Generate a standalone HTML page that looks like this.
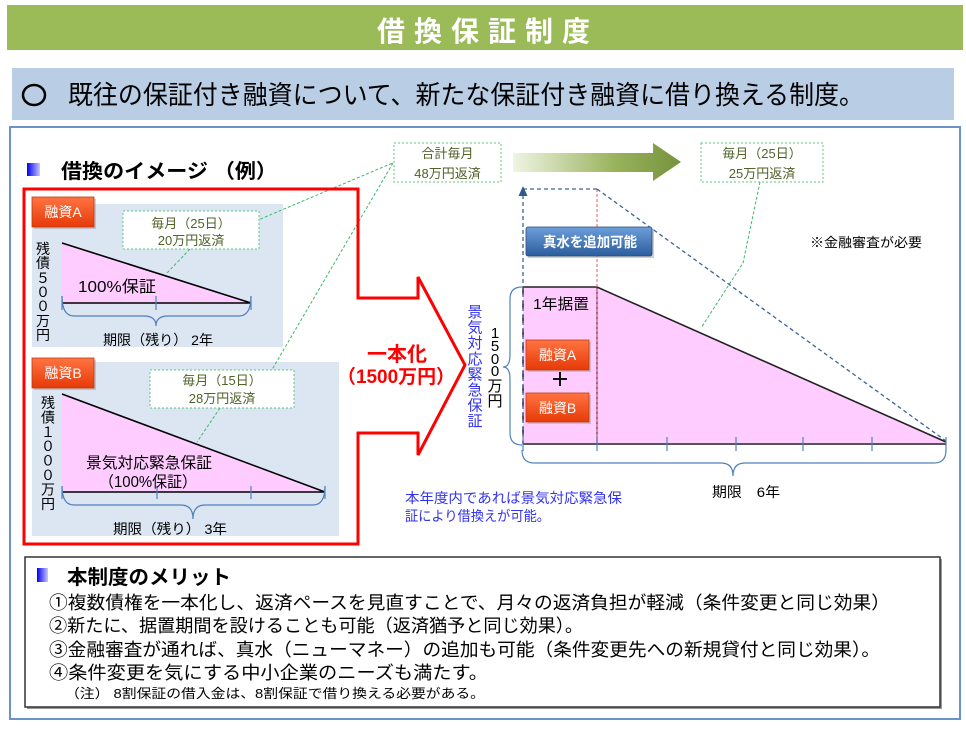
<!DOCTYPE html>
<html><head><meta charset="utf-8"><style>
html,body{margin:0;padding:0;background:#fff;}
svg{display:block;}
text{font-family:"Liberation Sans","Noto Sans CJK JP",sans-serif;}
</style></head><body>
<svg width="966" height="732" viewBox="0 0 966 732" xmlns="http://www.w3.org/2000/svg">
<defs>
<linearGradient id="bdg" x1="0" y1="0" x2="0" y2="1"><stop offset="0" stop-color="#FF7442"/><stop offset="1" stop-color="#E63A08"/></linearGradient>
<linearGradient id="btn" x1="0" y1="0" x2="0" y2="1"><stop offset="0" stop-color="#6C9EDA"/><stop offset="1" stop-color="#2C5E9F"/></linearGradient>
<linearGradient id="arr" x1="0" y1="0" x2="1" y2="0"><stop offset="0" stop-color="#F0F4E4"/><stop offset="0.6" stop-color="#9AB45E"/><stop offset="1" stop-color="#76923C"/></linearGradient>
<linearGradient id="sq" x1="0" y1="0" x2="1" y2="0"><stop offset="0" stop-color="#0000EE"/><stop offset="1" stop-color="#C8C8FF"/></linearGradient>
</defs>
<rect width="966" height="732" fill="#fff"/>

<!-- header -->
<rect x="7" y="5" width="956" height="45" fill="#9BBB59"/>
<text x="377" y="41" font-size="28" font-weight="bold" fill="#fff" textLength="213" lengthAdjust="spacing">借換保証制度</text>

<rect x="12" y="68" width="942" height="52" fill="#B9CDE5"/>
<ellipse cx="34" cy="95" rx="11" ry="10" fill="none" stroke="#000" stroke-width="2.5"/>
<text x="68" y="104" font-size="26" fill="#000" textLength="796" lengthAdjust="spacingAndGlyphs">既往の保証付き融資について、新たな保証付き融資に借り換える制度。</text>

<!-- main panel -->
<rect x="10" y="127" width="950" height="592" fill="#fff" stroke="#6C93C8" stroke-width="2"/>

<rect x="27" y="163" width="13" height="13" fill="url(#sq)"/>
<text x="61" y="178" font-size="20" font-weight="bold" fill="#000" textLength="216" lengthAdjust="spacingAndGlyphs">借換のイメージ （例）</text>

<!-- panels -->
<rect x="32" y="204" width="251" height="143" fill="#DCE6F2"/>
<rect x="32" y="362" width="307" height="174" fill="#DCE6F2"/>

<!-- triangle A -->
<polygon points="62,243 251,303 62,303" fill="#FFCCFF"/>
<path d="M62,243 L251,303 L62,303" fill="none" stroke="#000" stroke-width="1.6"/>
<g stroke="#4F81BD" stroke-width="1.2">
<line x1="62" y1="296" x2="62" y2="310"/><line x1="156" y1="296" x2="156" y2="310"/><line x1="251" y1="296" x2="251" y2="310"/>
</g>
<path d="M62,296 Q62,316 74,316 L144,316 Q156,316 156,326 Q156,316 168,316 L239,316 Q251,316 251,296" fill="none" stroke="#4F81BD" stroke-width="1.2"/>
<text x="78" y="292" font-size="16" fill="#000" textLength="78" lengthAdjust="spacingAndGlyphs">100%保証</text>
<text x="103" y="345" font-size="14" fill="#000" textLength="110" lengthAdjust="spacingAndGlyphs">期限（残り） 2年</text>
<text x="43" font-size="14" fill="#000" text-anchor="middle"><tspan x="43" y="254">残</tspan><tspan x="43" y="268">債</tspan><tspan x="43" y="283">５</tspan><tspan x="43" y="297">０</tspan><tspan x="43" y="311">０</tspan><tspan x="43" y="326">万</tspan><tspan x="43" y="340">円</tspan></text>

<!-- triangle B -->
<polygon points="62,394 325,492 62,492" fill="#FFCCFF"/>
<path d="M62,394 L325,492 L62,492" fill="none" stroke="#000" stroke-width="1.6"/>
<g stroke="#4F81BD" stroke-width="1.2">
<line x1="62" y1="486" x2="62" y2="499"/><line x1="157" y1="486" x2="157" y2="499"/><line x1="251" y1="486" x2="251" y2="499"/><line x1="325" y1="486" x2="325" y2="499"/>
</g>
<path d="M62,486 Q62,505 74,505 L181,505 Q193,505 193,519 Q193,505 205,505 L313,505 Q325,505 325,486" fill="none" stroke="#4F81BD" stroke-width="1.2"/>
<text x="86" y="468" font-size="15.5" fill="#000" textLength="126" lengthAdjust="spacingAndGlyphs">景気対応緊急保証</text>
<text x="99" y="487" font-size="15.5" fill="#000" textLength="98" lengthAdjust="spacingAndGlyphs">（100%保証）</text>
<text x="113" y="534" font-size="14" fill="#000" textLength="114" lengthAdjust="spacingAndGlyphs">期限（残り） 3年</text>
<text font-size="14" fill="#000" text-anchor="middle"><tspan x="48" y="408">残</tspan><tspan x="48" y="422.4">債</tspan><tspan x="48" y="436.8">１</tspan><tspan x="48" y="451.2">０</tspan><tspan x="48" y="465.6">０</tspan><tspan x="48" y="480">０</tspan><tspan x="48" y="494.4">万</tspan><tspan x="48" y="508.8">円</tspan></text>

<!-- green dashed connectors -->
<g stroke="#3CB86A" stroke-width="1" stroke-dasharray="3,2" fill="none">
<line x1="251" y1="223" x2="395" y2="162"/>
<line x1="190" y1="249" x2="167" y2="273"/>
<line x1="393" y1="163" x2="263" y2="385"/>
<line x1="220" y1="408" x2="197" y2="442"/>
<polyline points="760,182 743,263 701,328"/>
</g>

<!-- dashed boxes -->
<g fill="#fff" stroke="#5CC77E" stroke-width="1" stroke-dasharray="2,2">
<rect x="123" y="211" width="136" height="38"/>
<rect x="150" y="370" width="144" height="38"/>
<rect x="394" y="143" width="107" height="39"/>
<rect x="701" y="143" width="122" height="39"/>
</g>
<g font-size="13" fill="#4F6228" text-anchor="middle">
<text x="191" y="228">毎月（25日）</text><text x="191" y="245">20万円返済</text>
<text x="222" y="385">毎月（15日）</text><text x="222" y="403">28万円返済</text>
<text x="447.5" y="158">合計毎月</text><text x="447.5" y="178">48万円返済</text>
<text x="762" y="158">毎月（25日）</text><text x="762" y="178">25万円返済</text>
</g>

<!-- badges left -->
<rect x="34" y="199" width="62" height="30" fill="#999" opacity="0.45"/>
<rect x="32" y="197" width="62" height="30" fill="url(#bdg)" stroke="#C43A0E" stroke-width="0.8"/>
<text x="63" y="217" font-size="14" fill="#fff" text-anchor="middle">融資A</text>
<rect x="34" y="360" width="62" height="30" fill="#999" opacity="0.45"/>
<rect x="32" y="358" width="62" height="30" fill="url(#bdg)" stroke="#C43A0E" stroke-width="0.8"/>
<text x="63" y="378" font-size="14" fill="#fff" text-anchor="middle">融資B</text>

<!-- red outline arrow -->
<polygon points="24,189 358,189 358,298 418,298 418,277 465,365 418,455 418,433 358,433 358,544 24,544" fill="none" stroke="#FF0000" stroke-width="3" stroke-linejoin="miter"/>
<text x="397" y="361" font-size="20" font-weight="bold" fill="#FF0000" text-anchor="middle">一本化</text>
<text x="337" y="383" font-size="19" font-weight="bold" fill="#FF0000" textLength="118" lengthAdjust="spacingAndGlyphs">（1500万円）</text>

<!-- green big arrow -->
<polygon points="513,153 653,153 653,143 681,162 653,181 653,172 513,172" fill="url(#arr)"/>

<!-- right diagram -->
<polygon points="523,287 597,287 946,442 946,444 523,444" fill="#FFCCFF"/>
<path d="M523,287 L597,287 L946,442" fill="none" stroke="#222" stroke-width="1.6"/>
<line x1="523" y1="444" x2="946" y2="444" stroke="#555" stroke-width="2"/>
<line x1="597" y1="287" x2="597" y2="444" stroke="#4A3050" stroke-width="1.2"/>
<line x1="597" y1="189" x2="597" y2="444" stroke="#E06060" stroke-width="1" stroke-dasharray="3,2"/>
<line x1="523" y1="287" x2="523" y2="444" stroke="#111" stroke-width="1.4" stroke-dasharray="8,6"/>
<g stroke="#3C6496" stroke-width="1.3" stroke-dasharray="4,3" fill="none">
<line x1="523" y1="444" x2="523" y2="196"/>
<line x1="523" y1="189" x2="597" y2="189"/>
<line x1="597" y1="189" x2="946" y2="441"/>
</g>
<polygon points="523,186 518.5,196 527.5,196" fill="#2E5A8E"/>
<g stroke="#4F81BD" stroke-width="1.2">
<line x1="523" y1="437" x2="523" y2="451"/><line x1="597" y1="437" x2="597" y2="451"/><line x1="667" y1="437" x2="667" y2="451"/><line x1="736" y1="437" x2="736" y2="451"/><line x1="803" y1="437" x2="803" y2="451"/><line x1="872" y1="437" x2="872" y2="451"/><line x1="946" y1="437" x2="946" y2="451"/>
</g>
<path d="M522,450 Q522,463 534,463 L721,463 Q733,463 733,476 Q733,463 745,463 L934,463 Q946,463 946,450" fill="none" stroke="#4F81BD" stroke-width="1.2"/>
<path d="M522,287 Q510,287 510,299 L510,355 Q510,367 503,367 Q510,367 510,379 L510,433 Q510,445 522,445" fill="none" stroke="#4F81BD" stroke-width="1.2"/>
<text x="712" y="497" font-size="14" fill="#000" textLength="68" lengthAdjust="spacingAndGlyphs">期限　6年</text>
<text x="810" y="247" font-size="13" fill="#000" textLength="112" lengthAdjust="spacingAndGlyphs">※金融審査が必要</text>

<!-- button -->
<rect x="528" y="229" width="126" height="29" fill="#888" opacity="0.4"/>
<rect x="526" y="227" width="126" height="29" rx="2" fill="url(#btn)" stroke="#2A4C7A" stroke-width="0.8"/>
<text x="543" y="247" font-size="14" font-weight="bold" fill="#fff" textLength="94" lengthAdjust="spacingAndGlyphs">真水を追加可能</text>

<text x="533" y="309" font-size="15" fill="#000" textLength="56" lengthAdjust="spacingAndGlyphs">1年据置</text>
<rect x="528" y="342" width="63" height="30" fill="#999" opacity="0.45"/>
<rect x="526" y="340" width="63" height="30" fill="url(#bdg)" stroke="#C43A0E" stroke-width="0.8"/>
<text x="557.5" y="360" font-size="14" fill="#fff" text-anchor="middle">融資A</text>
<line x1="553" y1="379" x2="567" y2="379" stroke="#111" stroke-width="2"/>
<line x1="560" y1="372" x2="560" y2="386" stroke="#111" stroke-width="2"/>
<rect x="528" y="395" width="63" height="29" fill="#999" opacity="0.45"/>
<rect x="526" y="393" width="63" height="29" fill="url(#bdg)" stroke="#C43A0E" stroke-width="0.8"/>
<text x="557.5" y="413" font-size="14" fill="#fff" text-anchor="middle">融資B</text>

<!-- vertical labels right -->
<text font-size="15" fill="#000" text-anchor="middle"><tspan x="495" y="338">1</tspan><tspan x="495" y="351">5</tspan><tspan x="495" y="364">0</tspan><tspan x="495" y="376">0</tspan><tspan x="495" y="391">万</tspan><tspan x="495" y="406">円</tspan></text>
<text font-size="15" fill="#3333EE" text-anchor="middle"><tspan x="475" y="317">景</tspan><tspan x="475" y="332.6">気</tspan><tspan x="475" y="348.2">対</tspan><tspan x="475" y="363.8">応</tspan><tspan x="475" y="379.4">緊</tspan><tspan x="475" y="395">急</tspan><tspan x="475" y="410.6">保</tspan><tspan x="475" y="426.2">証</tspan></text>

<text x="405" y="503" font-size="14" fill="#3333EE" textLength="217" lengthAdjust="spacingAndGlyphs">本年度内であれば景気対応緊急保</text>
<text x="405" y="521" font-size="14" fill="#3333EE" textLength="145" lengthAdjust="spacingAndGlyphs">証により借換えが可能。</text>

<!-- merit box -->
<rect x="27" y="559" width="915" height="150" fill="#999"/>
<rect x="25" y="557" width="915" height="150" fill="#fff" stroke="#333" stroke-width="1.5"/>
<rect x="37" y="568" width="11" height="14" fill="url(#sq)"/>
<text x="67" y="584" font-size="20" font-weight="bold" fill="#000" textLength="164" lengthAdjust="spacingAndGlyphs">本制度のメリット</text>
<text x="49" y="609" font-size="18" fill="#000" textLength="841" lengthAdjust="spacingAndGlyphs">①複数債権を一本化し、返済ペースを見直すことで、月々の返済負担が軽減（条件変更と同じ効果）</text>
<text x="49" y="632" font-size="18" fill="#000" textLength="534" lengthAdjust="spacingAndGlyphs">②新たに、据置期間を設けることも可能（返済猶予と同じ効果）。</text>
<text x="49" y="656" font-size="18" fill="#000" textLength="831" lengthAdjust="spacingAndGlyphs">③金融審査が通れば、真水（ニューマネー）の追加も可能（条件変更先への新規貸付と同じ効果）。</text>
<text x="49" y="679" font-size="18" fill="#000" textLength="439" lengthAdjust="spacingAndGlyphs">④条件変更を気にする中小企業のニーズも満たす。</text>
<text x="65" y="698" font-size="13" fill="#000" textLength="420" lengthAdjust="spacingAndGlyphs">（注） 8割保証の借入金は、8割保証で借り換える必要がある。</text>
</svg>
</body></html>
